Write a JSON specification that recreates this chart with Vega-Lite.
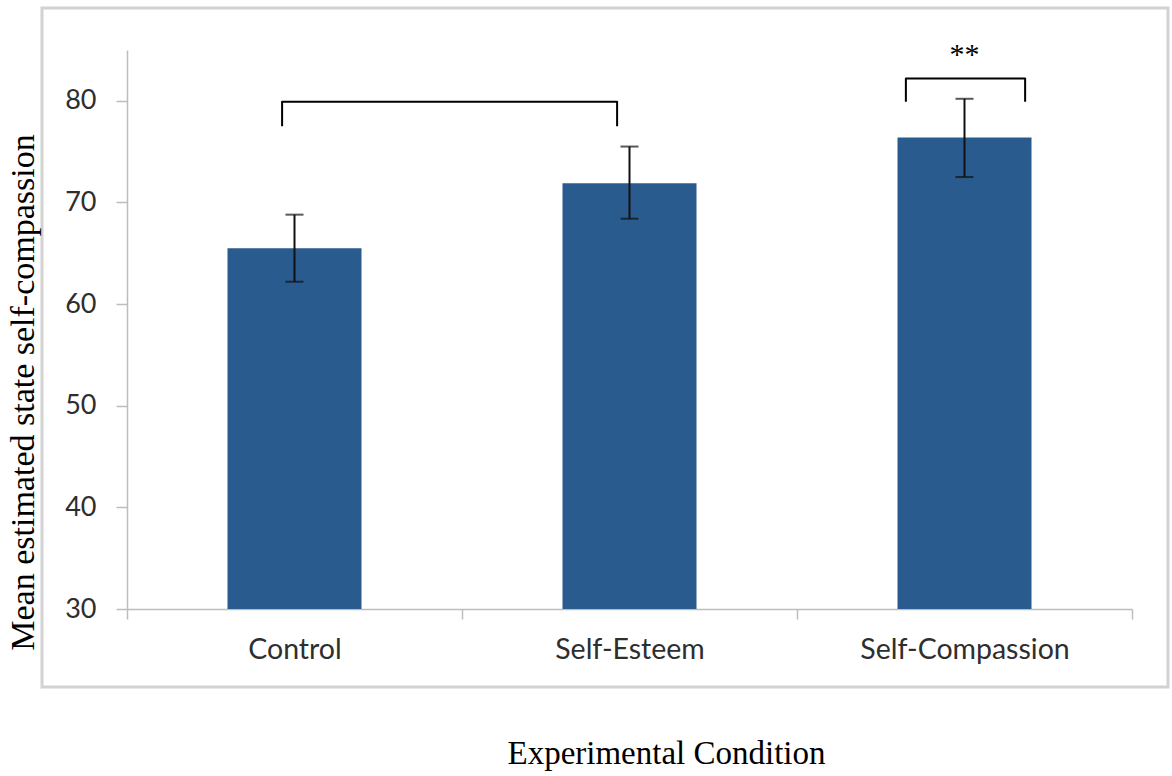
{
  "$schema": "https://vega.github.io/schema/vega-lite/v6.json",
  "width": 1126,
  "height": 679,
  "autosize": "none",
  "padding": {"left": 42, "top": 8, "right": 4, "bottom": 89},
  "background": "#ffffff",
  "config": {
    "view": {"stroke": "#d2d2d2", "strokeWidth": 3},
    "axis": {
      "grid": false,
      "domainColor": "#bdbdbd",
      "domainWidth": 1.5,
      "tickColor": "#bdbdbd",
      "tickWidth": 1.5,
      "labelFont": "Lato",
      "labelColor": "#2e2e2e",
      "labelFontSize": 27,
      "labelLimit": 0,
      "titleFont": "Liberation Serif",
      "titleFontWeight": "normal",
      "titleColor": "#000000"
    }
  },
  "datasets": {
    "conditions": [
      {"condition": "Control", "mean": 65.5, "lo": 62.2, "hi": 68.8},
      {"condition": "Self-Esteem", "mean": 71.9, "lo": 68.4, "hi": 75.5},
      {"condition": "Self-Compassion", "mean": 76.4, "lo": 72.5, "hi": 80.2}
    ],
    "significance": [
      {"condition": "Self-Compassion", "y": 84.5, "label": "**"}
    ],
    "brackets": [
      {"bracket": "A", "step": 0, "pos": 0.463, "val": 77.5},
      {"bracket": "A", "step": 1, "pos": 0.463, "val": 79.9},
      {"bracket": "A", "step": 2, "pos": 1.463, "val": 79.9},
      {"bracket": "A", "step": 3, "pos": 1.463, "val": 77.5},
      {"bracket": "B", "step": 0, "pos": 2.325, "val": 79.9},
      {"bracket": "B", "step": 1, "pos": 2.325, "val": 82.2},
      {"bracket": "B", "step": 2, "pos": 2.681, "val": 82.2},
      {"bracket": "B", "step": 3, "pos": 2.681, "val": 79.9}
    ]
  },
  "layer": [
    {
      "layer": [
        {
          "data": {"name": "conditions"},
          "mark": {"type": "bar", "color": "#2a5b8e", "width": {"band": 0.4}},
          "encoding": {
            "x": {
              "field": "condition",
              "type": "nominal",
              "sort": null,
              "scale": {
                "domain": ["Control", "Self-Esteem", "Self-Compassion"],
                "range": [85, 1090],
                "paddingInner": 0,
                "paddingOuter": 0
              },
              "axis": {
                "title": "Experimental Condition",
                "offset": -78,
                "labelAngle": 0,
                "labelFontSize": 28.5,
                "tickBand": "extent",
                "tickSize": 10,
                "labelPadding": 39,
                "labelBaseline": "alphabetic",
                "titleFontSize": 33,
                "titleX": 624,
                "titleY": 154,
                "titleAlign": "center",
                "titleBaseline": "alphabetic"
              }
            },
            "y": {
              "field": "mean",
              "type": "quantitative",
              "scale": {"domain": [30, 85], "range": [601, 42], "nice": false, "zero": false},
              "axis": {
                "title": "Mean estimated state self-compassion",
                "offset": -85,
                "values": [30, 40, 50, 60, 70, 80],
                "tickSize": 11,
                "labelPadding": 20,
                "titleFontSize": 34,
                "titleX": -94,
                "titleY": 384,
                "titleAngle": -90,
                "titleAlign": "center",
                "titleBaseline": "alphabetic"
              }
            },
            "y2": {"datum": 30}
          }
        },
        {
          "data": {"name": "conditions"},
          "mark": {"type": "rule", "color": "#111111", "strokeWidth": 2},
          "encoding": {
            "x": {"field": "condition", "type": "nominal", "sort": null},
            "y": {"field": "lo", "type": "quantitative"},
            "y2": {"field": "hi"}
          }
        },
        {
          "data": {"name": "conditions"},
          "mark": {"type": "tick", "orient": "horizontal", "color": "#111111", "size": 18, "thickness": 2},
          "encoding": {
            "x": {"field": "condition", "type": "nominal", "sort": null},
            "y": {"field": "lo", "type": "quantitative"}
          }
        },
        {
          "data": {"name": "conditions"},
          "mark": {"type": "tick", "orient": "horizontal", "color": "#111111", "size": 18, "thickness": 2},
          "encoding": {
            "x": {"field": "condition", "type": "nominal", "sort": null},
            "y": {"field": "hi", "type": "quantitative"}
          }
        },
        {
          "data": {"name": "significance"},
          "mark": {"type": "text", "font": "Liberation Serif", "fontSize": 30, "color": "#000000", "baseline": "middle", "align": "center"},
          "encoding": {
            "x": {"field": "condition", "type": "nominal", "sort": null},
            "y": {"field": "y", "type": "quantitative"},
            "text": {"field": "label"}
          }
        }
      ]
    },
    {
      "data": {"name": "brackets"},
      "mark": {"type": "line", "color": "#000000", "strokeWidth": 2, "strokeJoin": "round"},
      "encoding": {
        "x": {"field": "pos", "type": "quantitative", "scale": {"domain": [0, 3], "range": [85, 1090]}, "axis": null},
        "y": {"field": "val", "type": "quantitative"},
        "detail": {"field": "bracket"},
        "order": {"field": "step"}
      }
    }
  ],
  "resolve": {"scale": {"x": "independent"}}
}
